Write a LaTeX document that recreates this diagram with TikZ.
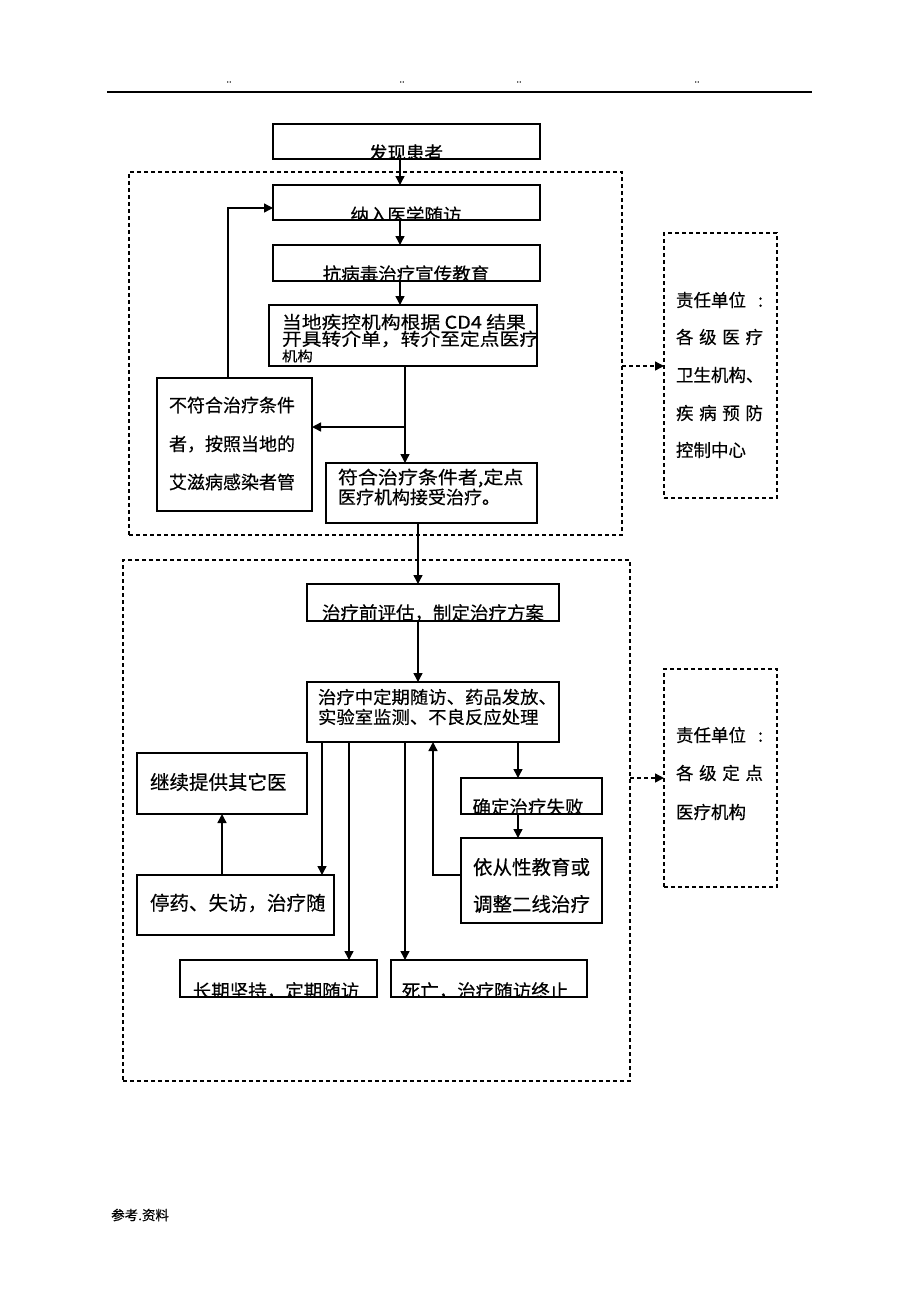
\documentclass[tikz,border=0pt]{standalone}
\usepackage{fontspec}
\setmainfont{Noto Sans CJK SC}[FakeBold=0.4]
\usetikzlibrary{arrows.meta}
\begin{document}
\begin{tikzpicture}[x=1pt,y=-1pt,
  box/.style={draw=black,line width=1.4pt,rectangle,inner sep=0pt,outer sep=0pt},
  dbox/.style={draw=black,line width=1.1pt,dash pattern=on 4pt off 3pt,rectangle,inner sep=0pt,outer sep=0pt},
  arr/.style={line width=1.4pt,-{Triangle[length=9pt,width=9pt]}},
  darr/.style={line width=1.4pt,dash pattern=on 4pt off 3pt,-{Triangle[length=9pt,width=9pt]}},
  txt/.style={inner sep=0pt,outer sep=0pt,font=\fontsize{18.5}{20}\selectfont},
  txtb/.style={inner sep=0pt,outer sep=0pt,font=\fontsize{19.5}{21}\selectfont,anchor=west},
  txtl/.style={inner sep=0pt,outer sep=0pt,font=\fontsize{18}{20}\selectfont,anchor=west},
  txtc/.style={inner sep=0pt,outer sep=0pt,font=\fontsize{17.5}{19}\selectfont,anchor=west},
  resp/.style={inner sep=0pt,outer sep=0pt,font=\fontsize{17.5}{19}\selectfont,anchor=west},
]
\useasboundingbox (0,0) rectangle (920,1302);

% header and footer
\coordinate (hl) at (107,92);
\coordinate (hr) at (812,92);
\draw[line width=1.1pt] (hl) -- (hr);
\node[font=\fontsize{9}{10}\selectfont,inner sep=0pt] (hd1) at (229,82) {..};
\node[font=\fontsize{9}{10}\selectfont,inner sep=0pt] (hd2) at (402,82) {..};
\node[font=\fontsize{9}{10}\selectfont,inner sep=0pt] (hd3) at (519,82) {..};
\node[font=\fontsize{9}{10}\selectfont,inner sep=0pt] (hd4) at (697,82) {..};
\node[font=\fontsize{13.5}{15}\selectfont,inner sep=0pt,anchor=west] (ft) at (111,1215) {参考.资料};

% dashed regions and responsibility boxes
\node[dbox,minimum width=493pt,minimum height=363pt] (reg1) at (375.5,353.5) {};
\node[dbox,minimum width=507pt,minimum height=521pt] (reg2) at (376.5,820.5) {};
\node[dbox,minimum width=113pt,minimum height=265pt] (r1) at (720.5,365.5) {};
\node[dbox,minimum width=113pt,minimum height=218pt] (r2) at (720.5,778) {};

\node[resp] (r1a) at (676,300) {\makebox[87pt][l]{责任单位\hfill :}};
\node[resp] (r1b) at (676,337) {\makebox[87pt][l]{各\hfill 级\hfill 医\hfill 疗}};
\node[resp] (r1c) at (676,375) {卫生机构、};
\node[resp] (r1d) at (676,413) {\makebox[87pt][l]{疾\hfill 病\hfill 预\hfill 防}};
\node[resp] (r1e) at (676,450) {控制中心};

\node[resp] (r2a) at (676,735) {\makebox[87pt][l]{责任单位\hfill :}};
\node[resp] (r2b) at (676,773) {\makebox[87pt][l]{各\hfill 级\hfill 定\hfill 点}};
\node[resp] (r2c) at (676,812) {医疗机构};

% boxes
\node[box,minimum width=267pt,minimum height=35pt] (b1) at (406.5,141.5) {};
\node[box,minimum width=267pt,minimum height=35pt] (b2) at (406.5,202.5) {};
\node[box,minimum width=267pt,minimum height=36pt] (b3) at (406.5,263) {};
\node[box,minimum width=268pt,minimum height=61pt] (b4) at (403,335.5) {};
\node[box,minimum width=155pt,minimum height=133pt] (b5) at (234.5,444.5) {};
\node[box,minimum width=211pt,minimum height=60pt] (b6) at (431.5,493) {};
\node[box,minimum width=252pt,minimum height=37pt] (b7) at (433,602.5) {};
\node[box,minimum width=252pt,minimum height=60pt] (b8) at (433,712) {};
\node[box,minimum width=170pt,minimum height=61pt] (b9) at (222,783.5) {};
\node[box,minimum width=197pt,minimum height=60pt] (b10) at (235.5,905) {};
\node[box,minimum width=141pt,minimum height=36pt] (b11) at (531.5,796) {};
\node[box,minimum width=141pt,minimum height=85pt] (b12) at (531.5,880.5) {};
\node[box,minimum width=197pt,minimum height=37pt] (b13) at (278.5,978.5) {};
\node[box,minimum width=196pt,minimum height=37pt] (b14) at (489,978.5) {};

% clipped texts
\begin{scope}\clip (b1.north west) rectangle (b1.south east);
\node[txt] (t1) at (406,153) {发现患者};\end{scope}
\begin{scope}\clip (b2.north west) rectangle (b2.south east);
\node[txt] (t2) at (406,215) {纳入医学随访};\end{scope}
\begin{scope}\clip (b3.north west) rectangle (b3.south east);
\node[txt] (t3) at (406,274) {抗病毒治疗宣传教育};\end{scope}
\begin{scope}\clip (b4.north west) rectangle (b4.south east);
\node[txtc] (t4a) at (282,322) {\scalebox{1.13}[1]{当地疾控机构根据 CD4 结果}};
\node[txtc] (t4b) at (282,339) {\scalebox{1.13}[1]{开具转介单，转介至定点医疗}};
\node[txtc,font=\fontsize{14}{15}\selectfont] (t4c) at (282,356) {\scalebox{1.1}[1]{机构}};\end{scope}
\begin{scope}\clip (b5.north west) rectangle (b5.south east);
\node[txtl] (t5a) at (169,405) {不符合治疗条件};
\node[txtl] (t5b) at (169,444) {者，按照当地的};
\node[txtl] (t5c) at (169,482) {艾滋病感染者管};\end{scope}
\begin{scope}\clip (b6.north west) rectangle (b6.south east);
\node[txtl] (t6a) at (338,478) {\scalebox{1.11}[1]{符合治疗条件者,定点}};
\node[txtl] (t6b) at (338,497) {\scalebox{1.0}[1]{医疗机构接受治疗。}};\end{scope}
\begin{scope}\clip (b7.north west) rectangle (b7.south east);
\node[txt] (t7) at (433,613) {治疗前评估，制定治疗方案};\end{scope}
\begin{scope}\clip (b8.north west) rectangle (b8.south east);
\node[txtc] (t8a) at (318,697) {\scalebox{1.05}[1]{治疗中定期随访、药品发放、}};
\node[txtc] (t8b) at (318,717) {\scalebox{1.05}[1]{实验室监测、不良反应处理}};\end{scope}
\begin{scope}\clip (b9.north west) rectangle (b9.south east);
\node[txtb] (t9) at (150,782) {继续提供其它医};\end{scope}
\begin{scope}\clip (b10.north west) rectangle (b10.south east);
\node[txtb] (t10) at (150,903) {停药、失访，治疗随};\end{scope}
\begin{scope}\clip (b11.north west) rectangle (b11.south east);
\node[txt] (t11) at (528,807) {确定治疗失败};\end{scope}
\begin{scope}\clip (b12.north west) rectangle (b12.south east);
\node[txtb] (t12a) at (473,867) {依从性教育或};
\node[txtb] (t12b) at (473,904) {调整二线治疗};\end{scope}
\begin{scope}\clip (b13.north west) rectangle (b13.south east);
\node[txt] (t13) at (276,991) {长期坚持，定期随访};\end{scope}
\begin{scope}\clip (b14.north west) rectangle (b14.south east);
\node[txt] (t14) at (485,991) {死亡，治疗随访终止};\end{scope}

% helper coordinates
\coordinate (xa) at (400,0);
\coordinate (xb) at (405,0);
\coordinate (xc) at (418,0);
\coordinate (xl) at (228,0);
\coordinate (ly) at (0,208);
\coordinate (br) at (405,427);
\coordinate (x1) at (322,0);
\coordinate (x2) at (349,0);
\coordinate (x3) at (405,0);
\coordinate (x4) at (433,0);
\coordinate (x5) at (518,0);
\coordinate (x6) at (222,0);
\coordinate (yl2) at (0,875);
\coordinate (d1) at (0,366);
\coordinate (d2) at (0,778);

% connectors
\draw[arr] (b1.south -| xa) -- (b2.north -| xa);
\draw[arr] (b2.south -| xa) -- (b3.north -| xa);
\draw[arr] (b3.south -| xa) -- (b4.north -| xa);
\draw[arr] (b4.south -| xb) -- (b6.north -| xb);
\draw[arr] (br) -- (b5.east |- br);
\draw[arr] (b5.north -| xl) |- (b2.west |- ly);
\draw[arr] (b6.south -| xc) -- (b7.north -| xc);
\draw[arr] (b7.south -| xc) -- (b8.north -| xc);
\draw[arr] (b8.south -| x1) -- (b10.north -| x1);
\draw[arr] (b8.south -| x2) -- (b13.north -| x2);
\draw[arr] (b8.south -| x3) -- (b14.north -| x3);
\draw[arr] (b12.west |- yl2) -| (b8.south -| x4);
\draw[arr] (b8.south -| x5) -- (b11.north -| x5);
\draw[arr] (b11.south -| x5) -- (b12.north -| x5);
\draw[arr] (b10.north -| x6) -- (b9.south -| x6);
\draw[darr] (reg1.east |- d1) -- (r1.west |- d1);
\draw[darr] (reg2.east |- d2) -- (r2.west |- d2);
\end{tikzpicture}
\end{document}
